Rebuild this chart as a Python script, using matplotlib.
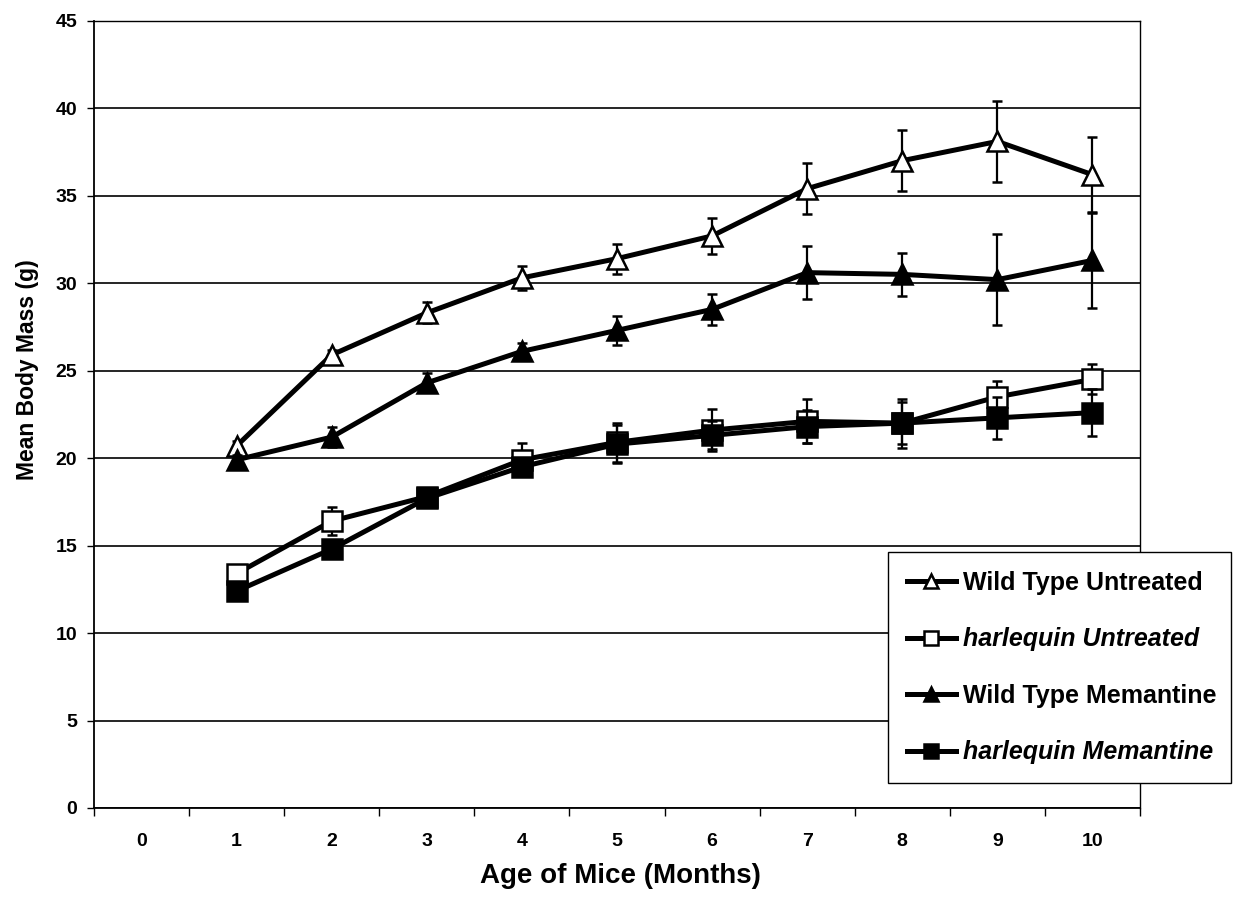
import matplotlib
matplotlib.use("Agg")
import matplotlib.pyplot as plt
from matplotlib import font_manager
from matplotlib.ticker import FixedLocator, NullFormatter, FixedFormatter

# Age of mice (months) and category axis labels
months = [1, 2, 3, 4, 5, 6, 7, 8, 9, 10]
tick_labels = ["0", "1", "2", "3", "4", "5", "6", "7", "8", "9", "10"]

# Mean body mass (g) and standard errors per group
wt_untreated = [20.7, 25.9, 28.3, 30.3, 31.4, 32.7, 35.4, 37.0, 38.1, 36.2]
wt_untreated_err = [0.3, 0.3, 0.6, 0.7, 0.85, 1.05, 1.45, 1.75, 2.3, 2.15]

harl_untreated = [13.4, 16.4, 17.8, 19.9, 20.9, 21.6, 22.1, 22.0, 23.5, 24.5]
harl_untreated_err = [0.3, 0.8, 0.4, 0.95, 1.1, 1.2, 1.25, 1.2, 0.9, 0.85]

wt_memantine = [19.9, 21.2, 24.3, 26.1, 27.3, 28.5, 30.6, 30.5, 30.2, 31.3]
wt_memantine_err = [0.3, 0.55, 0.55, 0.5, 0.85, 0.9, 1.5, 1.25, 2.6, 2.7]

harl_memantine = [12.4, 14.8, 17.7, 19.5, 20.8, 21.3, 21.8, 22.0, 22.3, 22.6]
harl_memantine_err = [0.3, 0.4, 0.4, 0.5, 1.1, 0.8, 0.95, 1.4, 1.2, 1.35]

series = [
    ("Wild Type Untreated", wt_untreated, wt_untreated_err, "^", "white", "normal"),
    ("harlequin Untreated", harl_untreated, harl_untreated_err, "s", "white", "italic"),
    ("Wild Type Memantine", wt_memantine, wt_memantine_err, "^", "black", "normal"),
    ("harlequin Memantine", harl_memantine, harl_memantine_err, "s", "black", "italic"),
]

# Arial-like bold face for all text
installed = {f.name for f in font_manager.fontManager.ttflist}


def pick(cands):
    for c in cands:
        if c in installed:
            return c
    return "DejaVu Sans"


sans = [pick(["Liberation Sans", "Arial", "Roboto", "Noto Sans"]), "DejaVu Sans"]

fig = plt.figure(figsize=(12.33, 9.08), dpi=100)
ax = fig.add_axes([94 / 1233, 1 - 808 / 908, (1140 - 94) / 1233, (808 - 20.7) / 908])

handles = []
for i, (label, vals, errs, marker, face, style) in enumerate(series):
    z = 3 + i * 2
    ax.errorbar(months, vals, yerr=errs, fmt="none", ecolor="black",
                elinewidth=1.6, capsize=3.8, capthick=1.8, zorder=z)
    (h,) = ax.plot(months, vals, color="black", lw=3.6, marker=marker,
                   markersize=14, markerfacecolor=face, markeredgecolor="black",
                   markeredgewidth=1.8, zorder=z + 1, label=label)
    handles.append(h)

ax.set_xlim(-0.5, 10.5)
ax.set_ylim(0, 45)
ax.set_yticks(range(0, 46, 5))
ax.yaxis.grid(True, color="black", lw=1.2)
ax.set_axisbelow(True)

ax.xaxis.set_major_locator(FixedLocator([x - 0.5 for x in range(12)]))
ax.xaxis.set_major_formatter(NullFormatter())
ax.xaxis.set_minor_locator(FixedLocator(list(range(11))))
ax.xaxis.set_minor_formatter(FixedFormatter(tick_labels))
ax.tick_params(axis="x", which="major", length=6, width=1, direction="out", color="black")
ax.tick_params(axis="x", which="minor", length=0, pad=18)
ax.tick_params(axis="y", length=5, width=1, direction="out", pad=7)

for lab in ax.get_xticklabels(minor=True) + ax.get_yticklabels():
    lab.set_family(sans)
    lab.set_fontweight("bold")
    lab.set_fontsize(14)

for s in ax.spines.values():
    s.set_color("black")
    s.set_linewidth(1.0)
ax.spines["left"].set_linewidth(1.3)
ax.spines["bottom"].set_linewidth(1.3)

fig.text(28 / 1233, 1 - 370 / 908, "Mean Body Mass (g)", rotation=90,
         ha="center", va="center", family=sans, fontweight="bold", fontsize=16.5)
fig.text(620 / 1233, 1 - 876 / 908, "Age of Mice (Months)",
         ha="center", va="center", family=sans, fontweight="bold", fontsize=20)

leg = ax.legend(handles=handles, loc="upper left",
                bbox_to_anchor=(888 / 1233, 1 - 553 / 908, (1231 - 888) / 1233, 0.001),
                bbox_transform=fig.transFigure, mode="expand", borderaxespad=0,
                frameon=True, fancybox=False, edgecolor="black", framealpha=1,
                borderpad=0.75, labelspacing=1.3, handlelength=1.95,
                handletextpad=0.3, markerscale=0.7,
                prop={"family": sans, "weight": "bold", "size": 18})
leg.get_frame().set_linewidth(1.0)
leg.set_zorder(20)
for txt, (_, _, _, _, _, style) in zip(leg.get_texts(), series):
    txt.set_fontstyle(style)

fig.savefig("out.png", dpi=100, facecolor="white")
